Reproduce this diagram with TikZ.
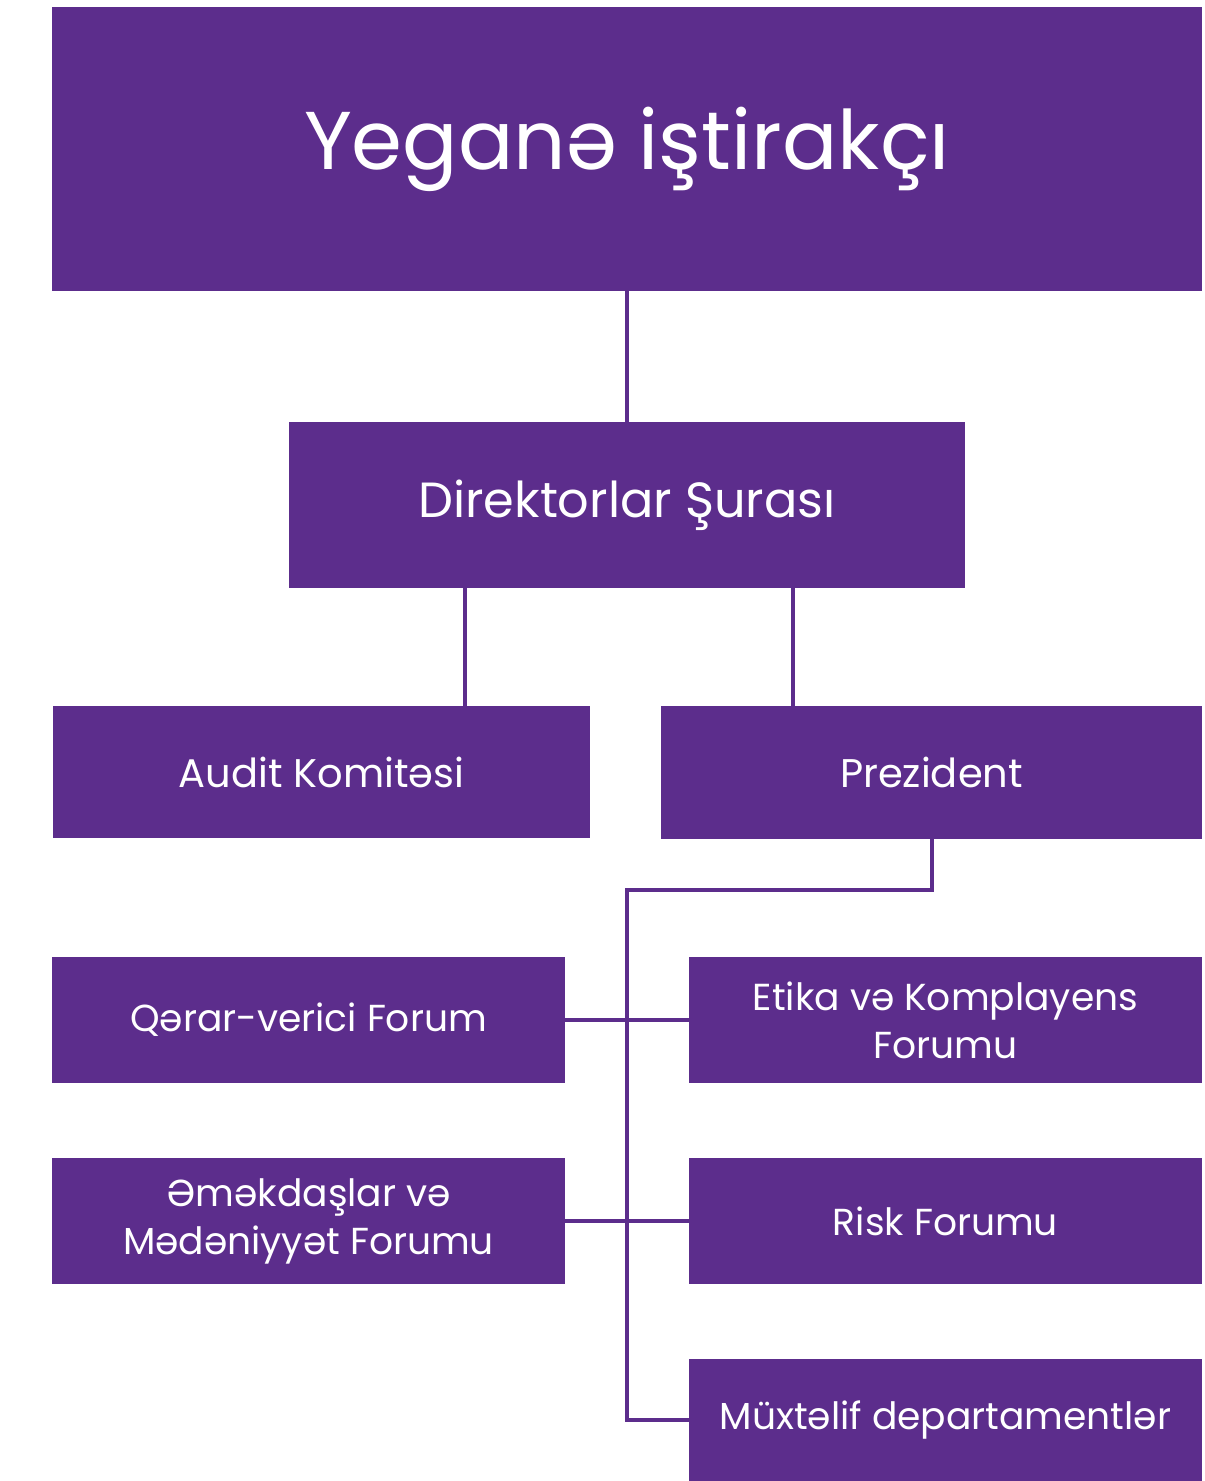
\documentclass[tikz,border=0pt]{standalone}
\usepackage{fontspec}
\setmainfont{Poppins}
\usetikzlibrary{positioning}
\definecolor{orgpurple}{HTML}{5C2D8C}

\tikzset{
	orgbox/.style={fill=orgpurple, text=white, inner sep=0pt, align=center, font=\fontsize{18.8}{24}\selectfont},
	orgline/.style={draw=orgpurple, line width=2pt},
}

\begin{document}
\begin{tikzpicture}[x=0.5pt,y=-0.5pt]
	\useasboundingbox (0,0) rectangle (1204,1481);

	\node[orgbox, minimum width=575pt, minimum height=142pt, font=\fontsize{41}{46}\selectfont] (owner) at (627,149) {Yeganə iştirakçı};
	\node[orgbox, minimum width=338pt, minimum height=83pt, font=\fontsize{24.7}{28}\selectfont] (board) at (627,505) {Direktorlar Şurası};

	\node[orgbox, minimum width=268.5pt, minimum height=66pt, font=\fontsize{20}{24}\selectfont] (audit) at (321.5,772) {Audit Komitəsi};
	\node[orgbox, minimum width=270.5pt, minimum height=66.5pt, font=\fontsize{20}{24}\selectfont] (prez) at (931.5,772.5) {Prezident};

	\node[orgbox, minimum width=256.5pt, minimum height=63pt] (decision) at (308.5,1020) {Qərar-verici Forum};
	\node[orgbox, minimum width=256.5pt, minimum height=63pt] (ethics) at (945.5,1020) {Etika və Komplayens\\Forumu};
	\node[orgbox, minimum width=256.5pt, minimum height=63pt] (people) at (308.5,1221) {Əməkdaşlar və\\Mədəniyyət Forumu};
	\node[orgbox, minimum width=256.5pt, minimum height=63pt] (risk) at (945.5,1221) {Risk Forumu};
	\node[orgbox, minimum width=256.5pt, minimum height=61pt] (depts) at (945.5,1420) {Müxtəlif departamentlər};

	\coordinate (trunk) at (627,890);

	% connectors
	\draw[orgline] (owner.south) -- (board.north);
	\draw[orgline] ([xshift=-81pt]board.south) -- ([xshift=-81pt]board.south |- audit.north);
	\draw[orgline] ([xshift=83pt]board.south) -- ([xshift=83pt]board.south |- prez.north);
	\draw[orgline] (prez.south) |- (trunk) -- (trunk |- depts.west) -- (depts.west);
	\draw[orgline] (decision.east) -- (ethics.west);
	\draw[orgline] (people.east) -- (risk.west);
\end{tikzpicture}
\end{document}
